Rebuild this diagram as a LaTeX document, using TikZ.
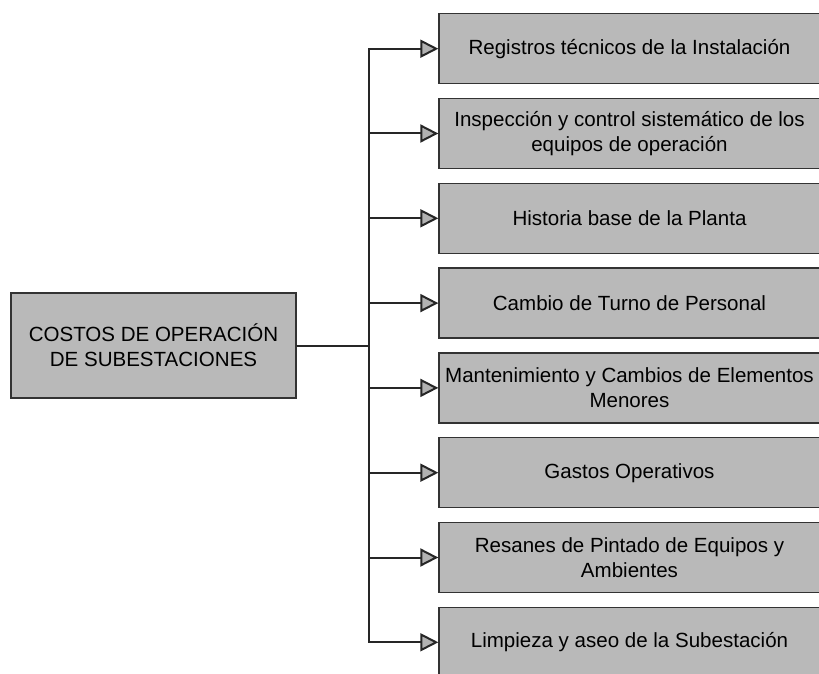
\documentclass[tikz,border=0pt]{standalone}
\usepackage{fontspec}
\setmainfont{Liberation Sans}
\usetikzlibrary{arrows.meta}
\begin{document}
\begin{tikzpicture}
		[x=.75pt,y=-.75pt,
		every node/.style={draw=black!80,line width=1pt,fill=gray!55,align=center,inner sep=2pt,
			font=\fontsize{15.4}{18.75}\selectfont},
		grow'=right,level distance=357pt,sibling distance=63.6pt,
		level 1/.style={nodes={minimum width=285.75pt,minimum height=52.5pt}},
		edge from parent/.style={draw=black!85,line width=1.5pt,
			-{Triangle[open,length=13.5pt,width=13.5pt,fill=gray!60]}},
		edge from parent path={(\tikzparentnode.east) -- ++(54pt,0) |- (\tikzchildnode.west)}]
		\useasboundingbox (0,0) rectangle (819,674);
		\node[minimum width=213.75pt,minimum height=78.75pt] (costos) at (153.5,345.5)
			{COSTOS DE OPERACIÓN\\DE SUBESTACIONES}
		child{
			node (registros) {Registros técnicos de la Instalación}
		}
		child{
			node (inspeccion) {Inspección y control sistemático de los\\equipos de operación}
		}
		child{
			node (historia) {Historia base de la Planta}
		}
		child{
			node (turno) {Cambio de Turno de Personal}
		}
		child{
			node (mantenimiento) {Mantenimiento y Cambios de Elementos\\Menores}
		}
		child{
			node (gastos) {Gastos Operativos}
		}
		child{
			node (resanes) {Resanes de Pintado de Equipos y\\Ambientes}
		}
		child{
			node (limpieza) {Limpieza y aseo de la Subestación}
		};
	\end{tikzpicture}
\end{document}
